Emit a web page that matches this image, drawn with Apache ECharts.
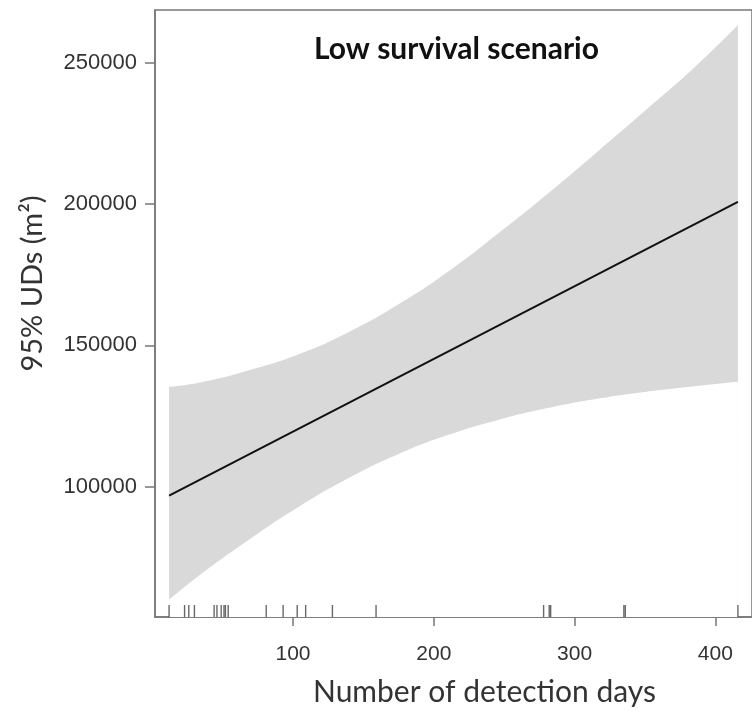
<!DOCTYPE html>
<html>
<head>
<meta charset="utf-8">
<script src="https://cdn.jsdelivr.net/npm/echarts@6/dist/echarts.min.js"></script>
<style>
html, body { margin: 0; padding: 0; background: #fff; }
#chart { width: 752px; height: 712px; }
</style>
</head>
<body>
<div id="chart"></div>
<script>
// fitted line (read at the two ends)
const lineDays = [12, 416];
const lineValues = [96800, 200800];

// confidence band
const bandDays = [12, 35, 70, 105, 140, 175, 210, 245, 280, 315, 350, 385, 416];
const bandUpper = [135300, 136900, 141300, 147000, 154800, 164500, 176000, 189300, 203300, 218000, 233000, 248300, 263400];
const bandLower = [59900, 69100, 81600, 93100, 103100, 111500, 118200, 123500, 127700, 131000, 133500, 135500, 137100];

// rug of observed detection days
const rugDays = [12, 23, 26, 30, 44, 46, 49, 51, 52, 54, 81, 93, 103, 109, 128, 159, 278, 282, 283, 335, 336, 416];

const xTicks = [100, 200, 300, 400];
const yTicks = [100000, 150000, 200000, 250000];

const xMin = 2, xMax = 426;
const yMin = 53800, yMax = 268700;

const chart = echarts.init(document.getElementById('chart'));

const upperData = bandDays.map((d, i) => [d, bandUpper[i]]);
const lowerData = bandDays.map((d, i) => [d, bandLower[i]]);
const lineData = lineDays.map((d, i) => [d, lineValues[i]]);
const rugData = rugDays.map(d => [d, yMin]);

const option = {
    animation: false,
    title: {
        text: 'Low survival scenario',
        left: 309,
        top: 29,
        textStyle: {
            fontFamily: 'Lato',
            fontWeight: 'bold',
            fontSize: 30,
            color: '#111'
        }
    },
    grid: {
        left: 155,
        right: -3,
        top: 10,
        bottom: 90,
        show: true,
        borderColor: '#777',
        borderWidth: 1.5
    },
    xAxis: {
        type: 'value',
        min: xMin,
        max: xMax,
        splitLine: { show: false },
        axisLine: { show: true, onZero: false, lineStyle: { color: '#777', width: 1.5 } },
        axisTick: { show: true, customValues: xTicks, length: 9, lineStyle: { color: '#777', width: 1.5 } },
        axisLabel: {
            customValues: xTicks,
            color: '#333',
            fontFamily: 'Liberation Sans',
            fontSize: 21,
            margin: 27
        },
        name: 'Number of detection days',
        nameLocation: 'middle',
        nameGap: 60,
        nameTextStyle: {
            fontFamily: 'Lato',
            fontSize: 30,
            color: '#333',
            padding: [0, 0, 0, 62]
        }
    },
    yAxis: {
        type: 'value',
        min: yMin,
        max: yMax,
        splitLine: { show: false },
        axisLine: { show: true, onZero: false, lineStyle: { color: '#777', width: 1.5 } },
        axisTick: { show: true, customValues: yTicks, length: 10, lineStyle: { color: '#777', width: 1.5 } },
        axisLabel: {
            customValues: yTicks,
            formatter: v => String(v),
            color: '#333',
            fontFamily: 'Liberation Sans',
            fontSize: 22,
            margin: 18
        },
        name: '95% UDs (m²)',
        nameLocation: 'middle',
        nameGap: 108,
        nameTextStyle: {
            fontFamily: 'Lato',
            fontSize: 29,
            color: '#333',
            padding: [0, 0, 0, 60]
        }
    },
    series: [
        {
            name: 'upper',
            type: 'line',
            data: upperData,
            symbol: 'none',
            smooth: true,
            lineStyle: { width: 0, opacity: 0 },
            areaStyle: { color: '#d9d9d9', opacity: 1, origin: 'start' },
            silent: true,
            z: 1
        },
        {
            name: 'lower',
            type: 'line',
            data: lowerData,
            symbol: 'none',
            smooth: true,
            lineStyle: { width: 0, opacity: 0 },
            areaStyle: { color: '#ffffff', opacity: 1, origin: 'start' },
            silent: true,
            z: 2
        },
        {
            name: 'fit',
            type: 'line',
            data: lineData,
            symbol: 'none',
            lineStyle: { color: '#111', width: 2 },
            z: 5
        },
        {
            name: 'rug',
            type: 'scatter',
            data: rugData,
            symbol: 'rect',
            symbolSize: [1.4, 12],
            symbolOffset: [0, -6],
            itemStyle: { color: '#444' },
            clip: false,
            z: 6
        }
    ]
};

chart.setOption(option);
</script>
</body>
</html>
